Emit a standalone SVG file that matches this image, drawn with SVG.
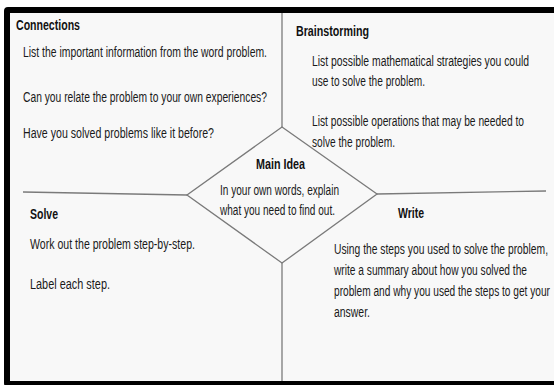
<svg xmlns="http://www.w3.org/2000/svg" width="554" height="385" viewBox="0 0 554 385">
  <style>
    .frame { fill: #f8f8f8; stroke: #000; stroke-width: 6; }
    .div { fill: none; stroke: #7a7a7a; stroke-width: 1.3; }
    .head { font-family: "Liberation Sans", Arial, sans-serif; font-size: 14px; font-weight: bold; fill: #111; }
    .body { font-family: "Liberation Sans", Arial, sans-serif; font-size: 15px; fill: #1a1a1a; }
  </style>
  <rect x="0" y="0" width="554" height="385" fill="#fff"/>
  <rect class="frame" x="7" y="10" width="600" height="374" rx="1"/>

  <!-- dividing lines and the central diamond -->
  <g id="connectors">
    <polygon class="div" points="282,127 377,194 282,263 187,195"/>
    <line class="div" x1="282" y1="13" x2="282" y2="127"/>
    <line class="div" x1="282" y1="263" x2="282" y2="381"/>
    <line class="div" x1="23" y1="192" x2="187" y2="195"/>
    <line class="div" x1="377" y1="194" x2="546" y2="191"/>
  </g>

  <!-- headings use a 0.75 horizontal squeeze, body text 0.68 -->
  <g id="connections">
    <text class="head" transform="matrix(0.75 0 0 1 16 30)" textLength="85.3" lengthAdjust="spacingAndGlyphs">Connections</text>
    <text class="body" transform="matrix(0.68 0 0 1 23 57)" textLength="358.8" lengthAdjust="spacingAndGlyphs">List the important information from the word problem.</text>
    <text class="body" transform="matrix(0.68 0 0 1 23 102)" textLength="358.8" lengthAdjust="spacingAndGlyphs">Can you relate the problem to your own experiences?</text>
    <text class="body" transform="matrix(0.68 0 0 1 23 138)" textLength="280.9" lengthAdjust="spacingAndGlyphs">Have you solved problems like it before?</text>
  </g>

  <g id="brainstorming">
    <text class="head" transform="matrix(0.75 0 0 1 296 36)" textLength="97.3" lengthAdjust="spacingAndGlyphs">Brainstorming</text>
    <text class="body" transform="matrix(0.68 0 0 1 312 66)" textLength="319.1" lengthAdjust="spacingAndGlyphs">List possible mathematical strategies you could</text>
    <text class="body" transform="matrix(0.68 0 0 1 312 86)" textLength="166.2" lengthAdjust="spacingAndGlyphs">use to solve the problem.</text>
    <text class="body" transform="matrix(0.68 0 0 1 312 126)" textLength="311.8" lengthAdjust="spacingAndGlyphs">List possible operations that may be needed to</text>
    <text class="body" transform="matrix(0.68 0 0 1 312 147)" textLength="122.1" lengthAdjust="spacingAndGlyphs">solve the problem.</text>
  </g>

  <g id="main-idea">
    <text class="head" transform="matrix(0.75 0 0 1 256 169)" textLength="65.3" lengthAdjust="spacingAndGlyphs">Main Idea</text>
    <text class="body" transform="matrix(0.68 0 0 1 220 195)" textLength="175" lengthAdjust="spacingAndGlyphs">In your own words, explain</text>
    <text class="body" transform="matrix(0.68 0 0 1 220 215)" textLength="169.1" lengthAdjust="spacingAndGlyphs">what you need to find out.</text>
  </g>

  <g id="solve">
    <text class="head" transform="matrix(0.75 0 0 1 30 219)" textLength="37.3" lengthAdjust="spacingAndGlyphs">Solve</text>
    <text class="body" transform="matrix(0.68 0 0 1 30 249)" textLength="242.6" lengthAdjust="spacingAndGlyphs">Work out the problem step-by-step.</text>
    <text class="body" transform="matrix(0.68 0 0 1 30 289)" textLength="117.6" lengthAdjust="spacingAndGlyphs">Label each step.</text>
  </g>

  <g id="write">
    <text class="head" transform="matrix(0.75 0 0 1 398 218)" textLength="34.7" lengthAdjust="spacingAndGlyphs">Write</text>
    <text class="body" transform="matrix(0.68 0 0 1 334 254)" textLength="314.7" lengthAdjust="spacingAndGlyphs">Using the steps you used to solve the problem,</text>
    <text class="body" transform="matrix(0.68 0 0 1 334 275)" textLength="283.8" lengthAdjust="spacingAndGlyphs">write a summary about how you solved the</text>
    <text class="body" transform="matrix(0.68 0 0 1 334 296)" textLength="317.6" lengthAdjust="spacingAndGlyphs">problem and why you used the steps to get your</text>
    <text class="body" transform="matrix(0.68 0 0 1 334 317)" textLength="52.9" lengthAdjust="spacingAndGlyphs">answer.</text>
  </g>
</svg>
